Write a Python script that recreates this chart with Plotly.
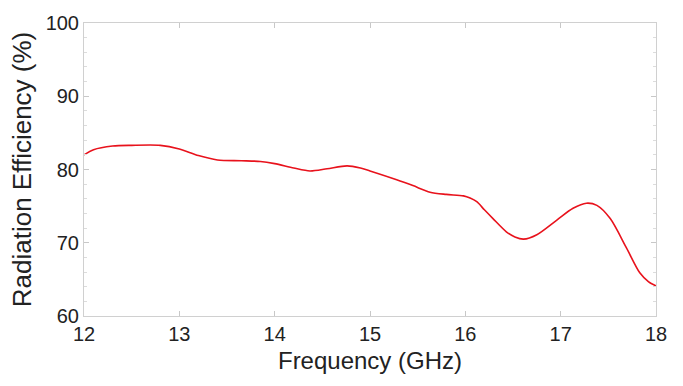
import plotly.graph_objects as go

freq_ghz = [12.0, 12.1, 12.3, 12.5, 12.8, 13.0, 13.2, 13.4, 13.65, 13.85, 14.0, 14.2, 14.37, 14.55, 14.76, 14.9, 15.0, 15.28, 15.45, 15.63, 15.8, 15.98, 16.05, 16.12, 16.2, 16.29, 16.43, 16.52, 16.61, 16.75, 16.96, 17.13, 17.27, 17.38, 17.52, 17.69, 17.83, 17.92, 18.0]
efficiency = [82.0, 82.7, 83.2, 83.3, 83.3, 82.8, 81.9, 81.3, 81.2, 81.1, 80.8, 80.2, 79.8, 80.1, 80.5, 80.2, 79.8, 78.6, 77.8, 76.9, 76.6, 76.4, 76.1, 75.6, 74.5, 73.3, 71.5, 70.8, 70.5, 71.1, 73.1, 74.7, 75.4, 75.1, 73.3, 69.3, 65.9, 64.7, 64.1]

x_ticks = [12, 13, 14, 15, 16, 17, 18]
y_ticks = [60, 70, 80, 90, 100]

FONT = "Liberation Sans, Arial, Helvetica, sans-serif"

fig = go.Figure()
fig.add_trace(go.Scatter(
    x=freq_ghz, y=efficiency, mode="lines",
    line=dict(color="#e8121c", width=1.6, shape="spline", smoothing=0.8),
    showlegend=False, hoverinfo="skip",
))

axis_common = dict(
    showline=True, linecolor="#d0d0d0", linewidth=1, mirror="ticks",
    ticks="inside", ticklen=5, tickcolor="#c8c8c8", tickwidth=1,
    showgrid=False, zeroline=False,
    tickfont=dict(family=FONT, size=20, color="#222222"),
)

fig.update_xaxes(
    range=[12, 18], tickvals=x_ticks, ticktext=[str(v) for v in x_ticks],
    title_text="Frequency (GHz)", title_standoff=8,
    title_font=dict(family=FONT, size=24, color="#222222"),
    **axis_common,
)
fig.update_yaxes(
    range=[60, 100], tickvals=y_ticks, ticktext=[str(v) for v in y_ticks],
    title_text="Radiation Efficiency (%)", title_standoff=6,
    title_font=dict(family=FONT, size=26, color="#222222"),
    minor=dict(dtick=2, ticks="inside", ticklen=3, tickcolor="#dcdcdc", tick0=60),
    **axis_common,
)

fig.update_layout(
    width=683, height=386,
    margin=dict(l=84, r=27, t=17, b=70),
    paper_bgcolor="white", plot_bgcolor="white",
)

fig.write_html("out.html")
